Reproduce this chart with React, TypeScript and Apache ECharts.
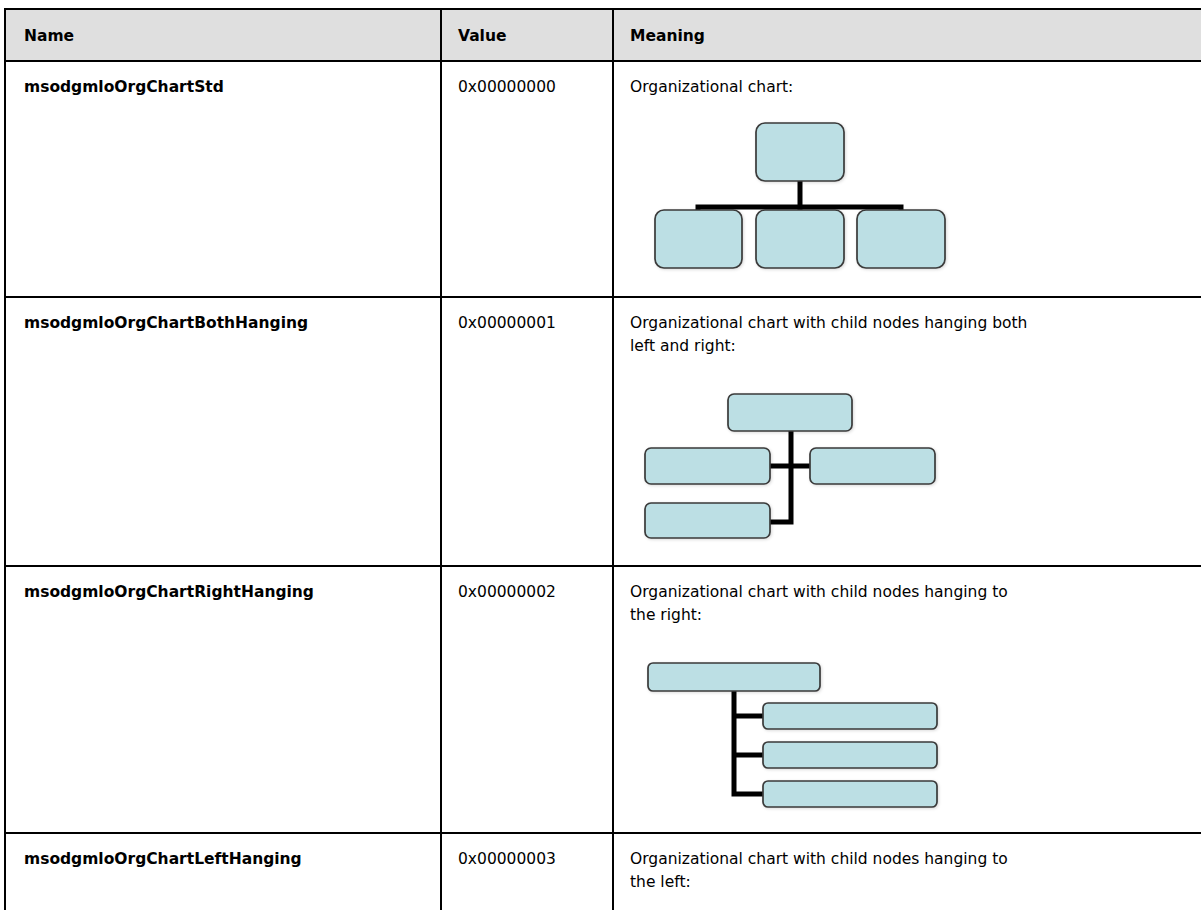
import React, { useEffect, useRef } from "react";
import * as echarts from "echarts";

// ---- table content ----
const headers = ["Name", "Value", "Meaning"];
const names = [
  "msodgmloOrgChartStd",
  "msodgmloOrgChartBothHanging",
  "msodgmloOrgChartRightHanging",
  "msodgmloOrgChartLeftHanging",
];
const values = ["0x00000000", "0x00000001", "0x00000002", "0x00000003"];
const meanings = [
  ["Organizational chart:"],
  ["Organizational chart with child nodes hanging both", "left and right:"],
  ["Organizational chart with child nodes hanging to", "the right:"],
  ["Organizational chart with child nodes hanging to", "the left:"],
];

const W = 1201;
const H = 910;
const FONT = "'DejaVu Sans', Verdana, sans-serif";
const FS = 15.5;
const colX = [5, 441, 613];
const rowY = [9, 61, 297, 566, 833];
const BOX_FILL = "#bcdfe4";
const BOX_STROKE = "#3a3a3a";

function box(x: number, y: number, w: number, h: number, r: number) {
  return {
    type: "rect",
    shape: { x, y, width: w, height: h, r },
    style: {
      fill: BOX_FILL,
      stroke: BOX_STROKE,
      lineWidth: 1.7,
      shadowBlur: 3,
      shadowColor: "rgba(0,0,0,0.15)",
      shadowOffsetX: 1,
      shadowOffsetY: 1,
    },
    z: 20,
  };
}
function conn(points: number[][]) {
  return {
    type: "polyline",
    shape: { points },
    style: { stroke: "#000", lineWidth: 5, fill: null, lineJoin: "miter" },
    z: 15,
  };
}

export default function App() {
  const ref = useRef<HTMLDivElement>(null);
  useEffect(() => {
    if (!ref.current) return;
    const chart = echarts.init(ref.current, undefined, { renderer: "svg" });
    const els: any[] = [];
    // header background
    els.push({
      type: "rect",
      shape: { x: colX[0], y: rowY[0], width: W - colX[0], height: rowY[1] - rowY[0] },
      style: { fill: "#dfdfdf" },
      z: 1,
    });
    // horizontal lines
    rowY.forEach((y) =>
      els.push({
        type: "line",
        shape: { x1: colX[0] - 1, y1: y, x2: W, y2: y },
        style: { stroke: "#000", lineWidth: 2 },
        z: 10,
      })
    );
    // vertical lines
    colX.forEach((x) =>
      els.push({
        type: "line",
        shape: { x1: x, y1: rowY[0] - 1, x2: x, y2: H },
        style: { stroke: "#000", lineWidth: 2 },
        z: 10,
      })
    );
    // header texts
    headers.forEach((h, i) =>
      els.push({
        type: "text",
        x: colX[i] + (i === 0 ? 19 : 17),
        y: (rowY[0] + rowY[1]) / 2 + 1,
        style: {
          text: h,
          font: `bold ${FS}px ${FONT}`,
          fill: "#000",
          textAlign: "left",
          textVerticalAlign: "middle",
        },
        z: 30,
      })
    );
    // row texts
    names.forEach((n, r) => {
      const y = rowY[r + 1] + 26;
      els.push({
        type: "text",
        x: colX[0] + 19,
        y,
        style: { text: n, font: `bold ${FS}px ${FONT}`, fill: "#000", textVerticalAlign: "middle" },
        z: 30,
      });
      els.push({
        type: "text",
        x: colX[1] + 17,
        y,
        style: { text: values[r], font: `${FS}px ${FONT}`, fill: "#000", textVerticalAlign: "middle" },
        z: 30,
      });
      meanings[r].forEach((m, k) =>
        els.push({
          type: "text",
          x: colX[2] + 17,
          y: y + k * 23,
          style: { text: m, font: `${FS}px ${FONT}`, fill: "#000", textVerticalAlign: "middle" },
          z: 30,
        })
      );
    });

    // Diagram 1: standard
    els.push(conn([[800, 181], [800, 207]]));
    els.push(conn([[698, 211], [698, 207], [901, 207], [901, 211]]));
    els.push(conn([[800, 207], [800, 211]]));
    els.push(box(756, 123, 88, 58, 9));
    els.push(box(655, 210, 87, 58, 9));
    els.push(box(756, 210, 88, 58, 9));
    els.push(box(857, 210, 88, 58, 9));

    // Diagram 2: both hanging
    els.push(conn([[791, 431], [791, 522], [770, 522]]));
    els.push(conn([[770, 466], [810, 466]]));
    els.push(box(728, 394, 124, 37, 6));
    els.push(box(645, 448, 125, 36, 6));
    els.push(box(810, 448, 125, 36, 6));
    els.push(box(645, 503, 125, 35, 6));

    // Diagram 3: right hanging
    els.push(conn([[734, 691], [734, 794], [763, 794]]));
    els.push(conn([[734, 716], [763, 716]]));
    els.push(conn([[734, 755], [763, 755]]));
    els.push(box(648, 663, 172, 28, 5));
    els.push(box(763, 703, 174, 26, 5));
    els.push(box(763, 742, 174, 26, 5));
    els.push(box(763, 781, 174, 26, 5));

    chart.setOption({
      animation: false,
      backgroundColor: "#fff",
      graphic: { elements: els },
    });
    return () => chart.dispose();
  }, []);
  return (
    <div
      ref={ref}
      style={{ position: "absolute", left: 0, top: 0, width: W, height: H }}
    />
  );
}
